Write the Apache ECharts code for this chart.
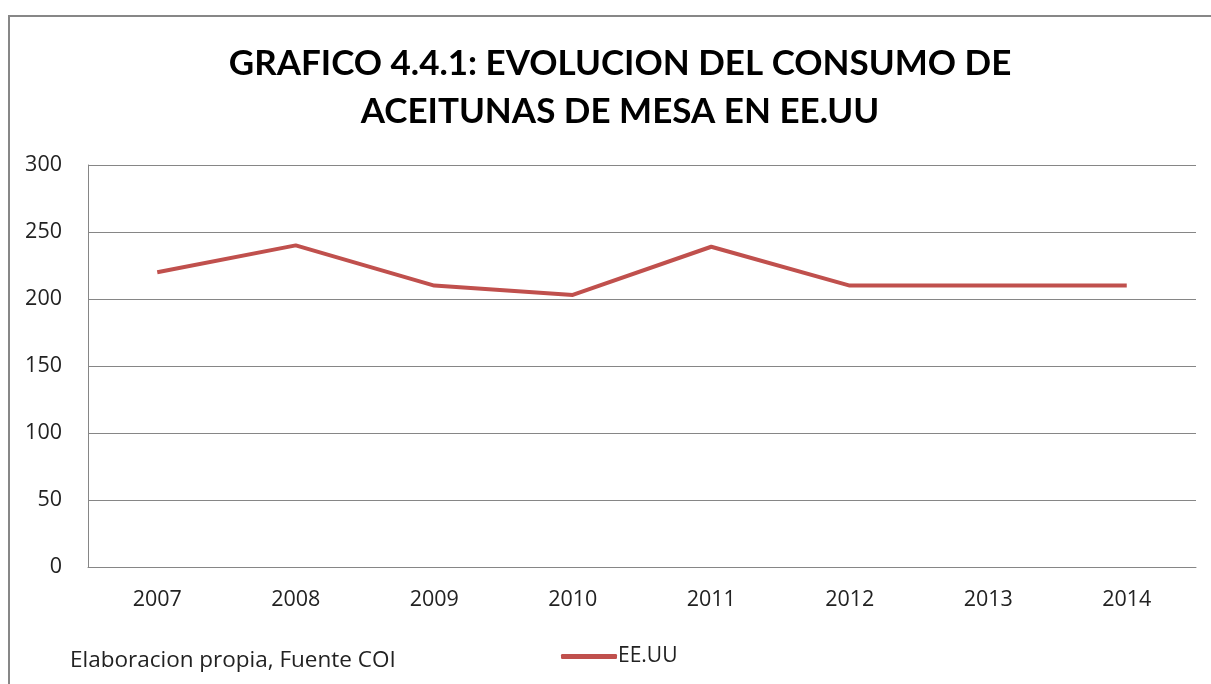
<!DOCTYPE html>
<html>
<head>
<meta charset="utf-8">
<script src="https://cdn.jsdelivr.net/npm/echarts@6/dist/echarts.min.js"></script>
<style>
  html, body { margin: 0; padding: 0; background: #fff; }
  #frame {
    position: absolute; left: 8px; top: 15px; right: -10px; bottom: -10px;
    border-left: 2px solid #878787; border-top: 2px solid #878787;
  }
  #chart { width: 1211px; height: 684px; position: absolute; left: 0; top: 0; }
</style>
</head>
<body>
<div id="frame"></div>
<div id="chart"></div>
<script>
// datos
const years = ['2007', '2008', '2009', '2010', '2011', '2012', '2013', '2014']
const consumoEEUU = [220, 240, 210, 203, 239, 210, 210, 210]
const yTicks = { min: 0, max: 300, step: 50 }

const chart = echarts.init(document.getElementById('chart'))
const option = {
  animation: false,
  title: {
    text: 'GRAFICO 4.4.1: EVOLUCION DEL CONSUMO DE\nACEITUNAS DE MESA EN EE.UU',
    left: 615,
    textAlign: 'center',
    top: 35,
    textStyle: {
      fontFamily: 'Lato',
      fontWeight: 'bold',
      fontSize: 35,
      lineHeight: 48,
      color: '#000'
    }
  },
  grid: { left: 88, right: 15, top: 165, bottom: 117, containLabel: false },
  legend: {
    data: ['EE.UU'],
    left: 556,
    top: 641,
    icon: 'roundRect',
    itemWidth: 56,
    itemHeight: 5,
    itemGap: 4,
    textStyle: { fontFamily: 'Open Sans', fontSize: 21, color: '#222', padding: [0, 0, 0, -4] }
  },
  graphic: [{
    type: 'text',
    left: 70,
    top: 649,
    style: { text: 'Elaboracion propia, Fuente COI', fontFamily: 'Open Sans', fontSize: 22.5, fill: '#222' }
  }],
  xAxis: {
    type: 'category',
    data: years,
    boundaryGap: true,
    axisLine: { lineStyle: { color: '#868686', width: 1 } },
    axisTick: { show: false },
    axisLabel: { fontFamily: 'Open Sans', fontSize: 21.5, color: '#222', margin: 22 }
  },
  yAxis: {
    type: 'value',
    min: yTicks.min,
    max: yTicks.max,
    interval: yTicks.step,
    axisLine: { show: true, lineStyle: { color: '#868686', width: 1 } },
    axisTick: { show: false },
    splitLine: { lineStyle: { color: '#868686', width: 1 } },
    axisLabel: { fontFamily: 'Open Sans', fontSize: 21.5, color: '#222', margin: 26 }
  },
  series: [{
    name: 'EE.UU',
    type: 'line',
    data: consumoEEUU,
    symbol: 'none',
    lineStyle: { color: '#C0504D', width: 4 },
    itemStyle: { color: '#C0504D' }
  }]
}
chart.setOption(option)
</script>
</body>
</html>
